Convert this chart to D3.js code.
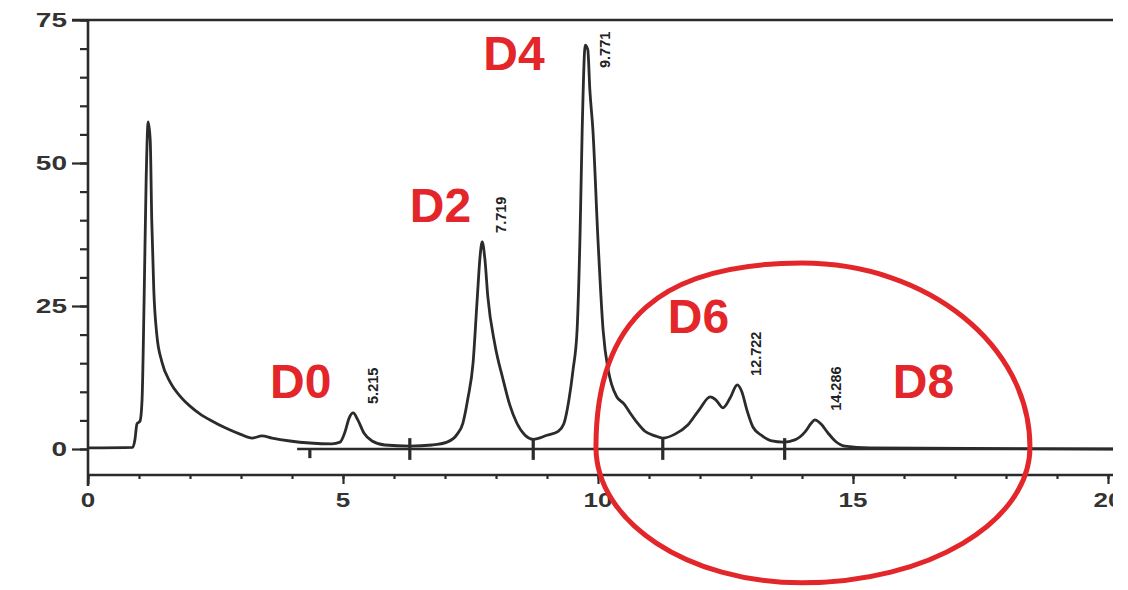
<!DOCTYPE html>
<html>
<head>
<meta charset="utf-8">
<script src="https://cdn.jsdelivr.net/npm/d3@7"></script>
<style>
  html, body { margin: 0; padding: 0; background: #fff; }
  svg { display: block; }
</style>
</head>
<body>
<svg id="chart" width="1128" height="590"></svg>
<script>
// ---------------- data ----------------
const times = [0.0, 0.88, 0.92, 0.96, 1.02, 1.06, 1.10, 1.14, 1.18, 1.22, 1.25, 1.29, 1.35, 1.45, 1.61, 1.80, 2.00, 2.20, 2.43, 2.69, 2.98, 3.22, 3.41, 3.61, 3.96, 4.35, 4.78, 4.94, 5.04, 5.12, 5.20, 5.29, 5.41, 5.57, 5.82, 6.31, 6.75, 7.04, 7.24, 7.35, 7.45, 7.55, 7.63, 7.69, 7.73, 7.78, 7.84, 7.98, 8.14, 8.27, 8.41, 8.57, 8.73, 9.00, 9.22, 9.33, 9.43, 9.51, 9.59, 9.65, 9.69, 9.75, 9.80, 9.84, 9.90, 10.00, 10.10, 10.20, 10.27, 10.37, 10.51, 10.63, 10.76, 10.92, 11.12, 11.27, 11.51, 11.76, 11.98, 12.20, 12.31, 12.45, 12.59, 12.73, 12.82, 12.92, 13.04, 13.22, 13.41, 13.63, 13.86, 14.06, 14.18, 14.25, 14.37, 14.51, 14.65, 14.84, 15.33, 20.1];
const signal = [0.2, 0.3, 1.6, 4.4, 4.9, 8.6, 26.0, 47.0, 57.2, 54.0, 40.0, 27.8, 19.9, 15.2, 11.7, 9.3, 7.5, 6.1, 4.9, 3.7, 2.6, 1.9, 2.3, 1.9, 1.4, 1.05, 0.9, 1.2, 3.0, 5.4, 6.3, 5.1, 2.8, 1.4, 0.7, 0.5, 0.7, 1.2, 2.6, 4.5, 8.9, 15.0, 26.0, 33.9, 36.2, 33.4, 26.6, 18.2, 12.1, 7.7, 4.5, 2.4, 1.7, 2.4, 3.1, 4.4, 8.6, 13.8, 20.8, 38.3, 55.8, 70.6, 69.8, 62.8, 55.8, 36.5, 20.8, 13.8, 11.2, 9.1, 7.9, 6.3, 4.7, 3.1, 2.3, 1.9, 2.6, 4.2, 6.8, 9.1, 8.6, 7.2, 8.9, 11.2, 10.0, 6.8, 3.8, 2.3, 1.4, 1.2, 1.6, 3.0, 4.5, 5.1, 4.4, 2.8, 1.4, 0.5, 0.2, 0.0];

const xMajorTicks = [0, 5, 10, 15, 20];
const xMinorTicks = d3.range(0, 21, 1);
const yMajorTicks = [0, 25, 50, 75];
const yMinorTicks = d3.range(0, 76, 5);

const peakLabels  = ["5.215", "7.719", "9.771", "12.722", "14.286"];
const peakTimes   = [5.215, 7.719, 9.771, 12.722, 14.286];
const peakHeights = [6.3, 36.2, 70.6, 11.2, 5.1];

const markerTimes = [4.35, 6.31, 8.73, 11.27, 13.66];

const annotTexts  = ["D0", "D2", "D4", "D6", "D8"];
const annotTimes  = [3.57, 6.31, 7.75, 11.37, 15.78];
const annotLevels = [8.9, 39.7, 66.3, 20.3, 8.9];

// ---------------- layout ----------------
const svg = d3.select("#chart");
const W = 1128, H = 590;
const x = d3.scaleLinear().domain([0, 20]).range([88, 1108]);
const y = d3.scaleLinear().domain([0, 75]).range([449, 20]);
const rightEdge = 1113;
const axisY = 475;
const ink = "#2b2b2b";
const red = "#e3262a";

svg.append("rect").attr("width", W).attr("height", H).attr("fill", "#fff");

svg.append("defs").append("clipPath").attr("id", "scan")
  .append("rect").attr("x", 0).attr("y", 0).attr("width", rightEdge).attr("height", H);

const g = svg.append("g").attr("clip-path", "url(#scan)");

// top line (extension of 75 tick)
g.append("line").attr("x1", 72).attr("x2", rightEdge).attr("y1", y(75)).attr("y2", y(75))
  .attr("stroke", ink).attr("stroke-width", 2.4);

// left axis line
g.append("line").attr("x1", x(0)).attr("x2", x(0)).attr("y1", y(75)).attr("y2", 486)
  .attr("stroke", ink).attr("stroke-width", 2.6);

// y axis ticks (minor & major)
const yMinorAxis = d3.axisLeft(y).tickValues(yMinorTicks).tickSize(8).tickFormat("");
const yMajorAxis = d3.axisLeft(y).tickValues(yMajorTicks).tickSize(16).tickFormat("");
[yMinorAxis, yMajorAxis].forEach(ax => {
  const a = g.append("g").attr("transform", `translate(${x(0)},0)`).call(ax);
  a.select(".domain").remove();
  a.selectAll("line").attr("stroke", ink).attr("stroke-width", 2.2);
});

g.selectAll(".ylab").data(yMajorTicks).join("text")
  .attr("class", "ylab")
  .attr("transform", d => `translate(67,${y(d)}) scale(1.4,1)`)
  .attr("text-anchor", "end").attr("dominant-baseline", "central")
  .attr("font-family", "Liberation Sans, Arial, sans-serif")
  .attr("font-weight", "bold").attr("font-size", 20).attr("fill", "#333")
  .text(d => d);

// bottom x axis
g.append("line").attr("x1", x(0)).attr("x2", rightEdge)
  .attr("y1", axisY).attr("y2", axisY).attr("stroke", ink).attr("stroke-width", 2.4);
const xMinorAxis = d3.axisBottom(x).tickValues(xMinorTicks).tickSize(4).tickFormat("");
const xMajorAxis = d3.axisBottom(x).tickValues(xMajorTicks).tickSize(9).tickFormat("");
[xMinorAxis, xMajorAxis].forEach(ax => {
  const a = g.append("g").attr("transform", `translate(0,${axisY})`).call(ax);
  a.select(".domain").remove();
  a.selectAll("line").attr("stroke", ink).attr("stroke-width", 2.2);
});
g.selectAll(".xlab").data(xMajorTicks).join("text")
  .attr("class", "xlab")
  .attr("transform", d => `translate(${x(d)},${axisY + 25}) scale(1.3,1)`)
  .attr("text-anchor", "middle").attr("dominant-baseline", "central")
  .attr("font-family", "Liberation Sans, Arial, sans-serif")
  .attr("font-weight", "bold").attr("font-size", 20).attr("fill", "#333")
  .text(d => d);

// integrator baseline
g.append("line").attr("x1", x(4.1)).attr("x2", rightEdge).attr("y1", y(0)).attr("y2", y(0))
  .attr("stroke", ink).attr("stroke-width", 2.4);

// integration event markers
g.selectAll(".mark").data(markerTimes).join("line")
  .attr("class", "mark")
  .attr("x1", d => x(d)).attr("x2", d => x(d))
  .attr("y1", (d, i) => i === 0 ? y(0) : y(1.9))
  .attr("y2", (d, i) => i === 0 ? y(-1.6) : y(-1.9))
  .attr("stroke", ink).attr("stroke-width", 3.2);

// chromatogram trace
const pts = times.map((t, i) => [t, signal[i]]);
const line = d3.line().x(d => x(d[0])).y(d => y(d[1])).curve(d3.curveMonotoneX);
g.append("path").datum(pts).attr("d", line)
  .attr("fill", "none").attr("stroke", ink).attr("stroke-width", 2.8)
  .attr("stroke-linejoin", "round");

// retention time labels (rotated)
g.selectAll(".plab").data(peakLabels).join("text")
  .attr("class", "plab")
  .attr("transform", (d, i) => {
    const cx = x(peakTimes[i]) + 19;
    const by = Math.max(y(peakHeights[i]) - 9, y(75) + 48);
    return `translate(${cx},${by}) rotate(-90)`;
  })
  .attr("text-anchor", "start").attr("dominant-baseline", "central")
  .attr("font-family", "Liberation Sans, Arial, sans-serif")
  .attr("font-weight", "bold").attr("font-size", 14.5).attr("fill", "#222")
  .text(d => d);

// red annotations
svg.selectAll(".ann").data(annotTexts).join("text")
  .attr("class", "ann")
  .attr("x", (d, i) => x(annotTimes[i]))
  .attr("y", (d, i) => y(annotLevels[i]))
  .attr("font-family", "Liberation Sans, Arial, sans-serif")
  .attr("font-weight", "bold").attr("font-size", 48).attr("fill", red)
  .text(d => d);

// red hand-drawn ellipse around D6 / D8 region (fuller upper-left)
const ex0 = x(9.96), ex1 = x(18.47), ecy = y(0.35);
const eTop = y(32.5), eBot = y(-23.4);
const eTopX = x(14.0), eBotX = x(14.0);
const k = 0.5523;
const ellipsePath =
  `M${ex0},${ecy}` +
  ` C${ex0},${ecy - (ecy - eTop) * 0.70} ${eTopX - (eTopX - ex0) * 0.68},${eTop} ${eTopX},${eTop}` +
  ` C${eTopX + (ex1 - eTopX) * k},${eTop} ${ex1},${ecy - (ecy - eTop) * k} ${ex1},${ecy}` +
  ` C${ex1},${ecy + (eBot - ecy) * k} ${eBotX + (ex1 - eBotX) * k},${eBot} ${eBotX},${eBot}` +
  ` C${eBotX - (eBotX - ex0) * k},${eBot} ${ex0},${ecy + (eBot - ecy) * k} ${ex0},${ecy} Z`;
svg.append("path")
  .attr("d", ellipsePath)
  .attr("fill", "none").attr("stroke", red).attr("stroke-width", 5);
</script>
</body>
</html>
